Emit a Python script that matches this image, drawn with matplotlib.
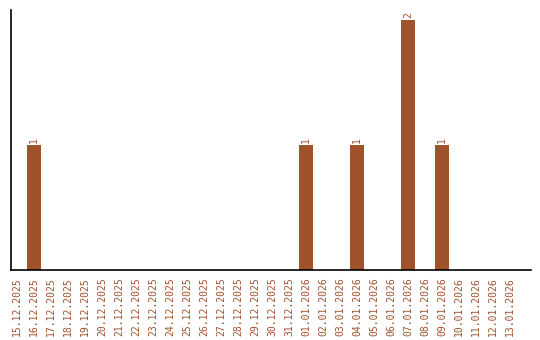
import matplotlib
matplotlib.use("Agg")
import matplotlib.pyplot as plt
import pandas as pd

dates = [d.strftime("%d.%m.%Y") for d in pd.date_range("2025-12-15", "2026-01-13")]
counts_by_date = {"16.12.2025": 1, "01.01.2026": 1, "04.01.2026": 1, "07.01.2026": 2, "09.01.2026": 1}
values = [counts_by_date.get(d, 0) for d in dates]

color = "#A0522D"
fig = plt.figure(figsize=(5.4, 3.4), dpi=100)
ax = fig.add_axes([10.5/540, 70/340, 520.5/540, 260/340])
x = list(range(len(dates)))
bars = ax.bar(x, values, width=0.82, color=color)
for xi, v in zip(x, values):
    if v > 0:
        ax.text(xi, v + 0.015, str(v), rotation=90, ha="center", va="bottom",
                color=color, fontsize=7, family="DejaVu Sans Mono")
ax.set_xlim(-0.382, 30.24)
ax.set_ylim(0, 2.08)
ax.set_xticks(x)
ax.set_xticklabels(dates, rotation=90, color=color, fontsize=7, family="DejaVu Sans Mono")
ax.tick_params(axis="x", length=0, pad=5)
ax.set_yticks([])
ax.spines["top"].set_visible(False)
ax.spines["right"].set_visible(False)
ax.spines["left"].set_linewidth(1.2)
ax.spines["bottom"].set_linewidth(1.2)
fig.savefig("out.png", dpi=100)
